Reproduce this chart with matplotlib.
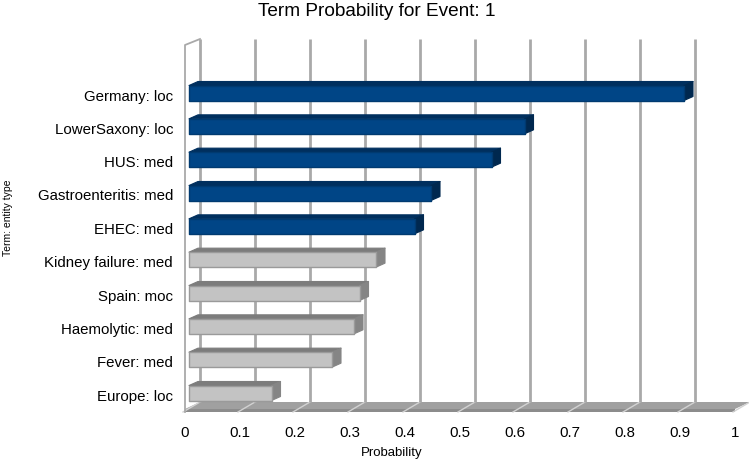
import matplotlib
matplotlib.use("Agg")
import matplotlib.pyplot as plt
from matplotlib.patches import Polygon
from matplotlib.transforms import IdentityTransform
import numpy as np

plt.rcParams['font.family'] = ['Liberation Sans', 'DejaVu Sans']

# data, listed top to bottom as in the chart
terms = ["Germany: loc", "LowerSaxony: loc", "HUS: med", "Gastroenteritis: med",
         "EHEC: med", "Kidney failure: med", "Spain: moc", "Haemolytic: med",
         "Fever: med", "Europe: loc"]
probs = [0.90, 0.61, 0.55, 0.44, 0.41, 0.34, 0.31, 0.30, 0.26, 0.15]
n_highlight = 5  # first five terms drawn in blue
xticks = [0, 0.1, 0.2, 0.3, 0.4, 0.5, 0.6, 0.7, 0.8, 0.9, 1]
xtick_labels = ["0", "0.1", "0.2", "0.3", "0.4", "0.5", "0.6", "0.7", "0.8", "0.9", "1"]

W, H = 749, 462
fig = plt.figure(figsize=(W / 100, H / 100), dpi=100)
ax = fig.add_axes([185 / W, (H - 409) / H, 550 / W, 364 / H])
ax.set_xlim(0, 1)
ax.set_ylim(-0.42, 10.5)
for s in ax.spines.values():
    s.set_visible(False)

# depth offsets in pixels (3D look)
WALL = (15, 7)
BAR_FRONT = (4, 2)
BAR_BACK = (13, 6)


def px(x, y, off=(0, 0)):
    p = ax.transData.transform((x, y))
    return (p[0] + off[0], p[1] + off[1])


def poly(points, fc, ec="none", lw=0, z=1):
    ax.add_patch(Polygon(points, closed=True, facecolor=fc, edgecolor=ec,
                         linewidth=lw, transform=IdentityTransform(),
                         clip_on=False, zorder=z, joinstyle="round"))


y0, y1 = ax.get_ylim()

# floor: top surface plus a thin front lip
poly([px(0, y0), px(1, y0), px(1, y0, WALL), px(0, y0, WALL)], "#a0a0a0", z=1)
poly([px(0, y0, (0, -3)), px(1, y0, (0, -3)), px(1, y0), px(0, y0)], "#8c8c8c", z=1)
for v in xticks:
    a, b = px(v, y0, (-2, -3)), px(v, y0, WALL)
    ax.plot([a[0], b[0]], [a[1], b[1]], color="#d2d2d2", lw=1.0,
            transform=IdentityTransform(), clip_on=False, zorder=2)

# back wall grid lines
for v in xticks:
    a, b = px(v, y0, WALL), px(v, y1, (WALL[0], WALL[1] - 1))
    ax.plot([a[0], b[0]], [a[1], b[1]], color="#a9a9a9", lw=2.0,
            transform=IdentityTransform(), clip_on=False, zorder=2,
            solid_capstyle="butt")

# left wall edge
a, b, c = px(0, y0, (0, -3)), px(0, y1), px(0, y1, (WALL[0], WALL[1] - 1))
ax.plot([a[0], b[0], c[0]], [a[1], b[1], c[1]], color="#a9a9a9", lw=1.3,
        transform=IdentityTransform(), clip_on=False, zorder=2)

# bars
ypos = np.arange(len(terms))[::-1]
h = 0.45
for i, (yc, v) in enumerate(zip(ypos, probs)):
    if i < n_highlight:
        front, top, side, edge = "#004586", "#002f5e", "#00284f", "#003a70"
    else:
        front, top, side, edge = "#c3c3c3", "#7c7c7c", "#858585", "#9a9a9a"
    lo, hi = yc - h / 2, yc + h / 2
    poly([px(0, hi, BAR_FRONT), px(v, hi, BAR_FRONT), px(v, hi, BAR_BACK),
          px(0, hi, BAR_BACK)], top, ec=top, lw=0.8, z=3)
    poly([px(v, lo, BAR_FRONT), px(v, hi, BAR_FRONT), px(v, hi, BAR_BACK),
          px(v, lo, BAR_BACK)], side, ec=side, lw=0.8, z=3)
    poly([px(0, lo, BAR_FRONT), px(v, lo, BAR_FRONT), px(v, hi, BAR_FRONT),
          px(0, hi, BAR_FRONT)], front, ec=edge, lw=1.0, z=4)

ax.set_yticks(ypos)
ax.set_yticklabels(terms, fontsize=10.8)
ax.set_xticks(xticks)
ax.set_xticklabels(xtick_labels, fontsize=10.8)
ax.tick_params(axis="y", length=0, pad=8.6)
ax.tick_params(axis="x", length=0, pad=12)
ax.patch.set_visible(False)

fig.text(377 / W, 1 - 12 / H, "Term Probability for Event: 1", fontsize=13.7,
         ha="center", va="center")
fig.text(392 / W, 1 - 453 / H, "Probability", fontsize=9.5,
         ha="center", va="center")
fig.text(8 / W, 1 - 218 / H, "Term: entity type", fontsize=7.5, rotation=90,
         ha="center", va="center")

fig.savefig("out.png", dpi=100)
